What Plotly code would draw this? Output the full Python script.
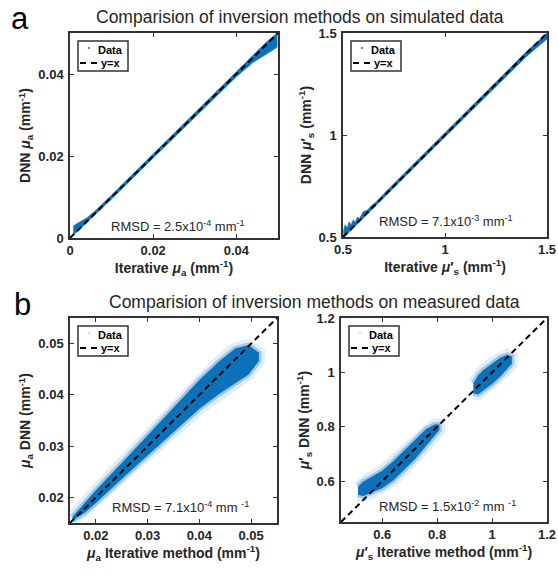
import plotly.graph_objects as go

# ---------------- data ----------------
# (a) simulated data, absorption: band of points around y=x
sim_mua_x  = [0.0008, 0.0015, 0.0025, 0.004, 0.006, 0.010, 0.020, 0.030, 0.040, 0.044, 0.047, 0.0498]
sim_mua_hi = [0.0030, 0.0035, 0.0040, 0.0049, 0.0066, 0.0105, 0.0205, 0.0305, 0.0405, 0.0446, 0.0476, 0.0500]
sim_mua_lo = [0.0010, 0.0013, 0.0021, 0.0036, 0.0056, 0.0095, 0.0195, 0.0295, 0.0393, 0.0428, 0.0447, 0.0465]

# (a) simulated data, reduced scattering (jagged upper edge at low values)
sim_mus_x  = [0.502, 0.51, 0.52, 0.53, 0.54, 0.55, 0.56, 0.57, 0.58, 0.60, 0.62, 0.64, 0.66, 0.68, 0.70, 0.80, 1.00, 1.20, 1.40, 1.50]
sim_mus_hi = [0.530, 0.560, 0.545, 0.575, 0.560, 0.585, 0.572, 0.598, 0.590, 0.625, 0.632, 0.655, 0.670, 0.692, 0.712, 0.812, 1.010, 1.210, 1.410, 1.500]
sim_mus_lo = [0.495, 0.505, 0.515, 0.525, 0.533, 0.543, 0.553, 0.563, 0.573, 0.592, 0.612, 0.632, 0.652, 0.672, 0.692, 0.792, 0.990, 1.190, 1.385, 1.470]

# (b) measured data, absorption cloud
meas_mua_x  = [0.0155, 0.018, 0.020, 0.025, 0.030, 0.035, 0.040, 0.044, 0.047, 0.0495, 0.0515]
meas_mua_hi = [0.0162, 0.0193, 0.0214, 0.0267, 0.0320, 0.0374, 0.0429, 0.0467, 0.0491, 0.0497, 0.0482]
meas_mua_lo = [0.0155, 0.0171, 0.0189, 0.0236, 0.0282, 0.0328, 0.0373, 0.0403, 0.0423, 0.0440, 0.0466]

# (b) measured data, reduced scattering: two clusters
meas_mus1_x  = [0.512, 0.53, 0.56, 0.60, 0.64, 0.68, 0.72, 0.76, 0.79, 0.808]
meas_mus1_hi = [0.580, 0.598, 0.615, 0.638, 0.673, 0.711, 0.753, 0.792, 0.808, 0.808]
meas_mus1_lo = [0.550, 0.546, 0.556, 0.574, 0.603, 0.642, 0.682, 0.727, 0.765, 0.788]
meas_mus2_x  = [0.932, 0.95, 0.97, 1.00, 1.03, 1.055, 1.072]
meas_mus2_hi = [0.960, 0.990, 1.010, 1.035, 1.055, 1.064, 1.058]
meas_mus2_lo = [0.922, 0.920, 0.935, 0.957, 0.985, 1.010, 1.032]

# axis ranges and ticks
ranges = {1: [0, 0.05], 2: [0.5, 1.5], 3: [0.015, 0.055], 4: [0.45, 1.2]}
tickvals = {1: [0, 0.02, 0.04], 2: [0.5, 1, 1.5],
            3: [0.02, 0.03, 0.04, 0.05], 4: [0.6, 0.8, 1.0, 1.2]}
ticktext = {1: ["0", "0.02", "0.04"], 2: ["0.5", "1", "1.5"],
            3: ["0.02", "0.03", "0.04", "0.05"], 4: ["0.6", "0.8", "1", "1.2"]}
xtitles = {1: "Iterative <i>μ</i><sub>a</sub> (mm<sup>-1</sup>)",
           2: "Iterative <i>μ</i>′<sub>s</sub> (mm<sup>-1</sup>)",
           3: "<i>μ</i><sub>a</sub> Iterative method (mm<sup>-1</sup>)",
           4: "<i>μ</i>′<sub>s</sub> Iterative method (mm<sup>-1</sup>)"}
ytitles = {1: "DNN <i>μ</i><sub>a</sub> (mm<sup>-1</sup>)",
           2: "DNN <i>μ</i>′<sub>s</sub> (mm<sup>-1</sup>)",
           3: "<i>μ</i><sub>a</sub> DNN (mm<sup>-1</sup>)",
           4: "<i>μ</i>′<sub>s</sub> DNN (mm<sup>-1</sup>)"}
rmsd = {1: "RMSD = 2.5x10<sup>-4</sup> mm<sup>-1</sup>",
        2: "RMSD = 7.1x10<sup>-3</sup> mm<sup>-1</sup>",
        3: "RMSD = 7.1x10<sup>-4</sup> mm <sup>-1</sup>",
        4: "RMSD = 1.5x10<sup>-2</sup> mm <sup>-1</sup>"}
legend_labels = ["Data", "y=x"]

# ---------------- layout geometry ----------------
W, H = 558, 575
axes_px = {1: (70, 33, 278, 238), 2: (343, 33, 547, 237),
           3: (70, 318, 277, 523), 4: (341, 318, 547, 522)}

BLUE = "#0B72BA"
FONT = "Liberation Sans"
AXC = "#333333"

fig = go.Figure()

def band(i, xs, hi, lo, fringe):
    xr = "x" if i == 1 else f"x{i}"
    yr = "y" if i == 1 else f"y{i}"
    px = list(xs) + list(xs)[::-1]
    py = list(hi) + list(lo)[::-1]
    if fringe:
        # faint halo of sparse points around the dense core
        fig.add_trace(go.Scatter(x=px, y=py, xaxis=xr, yaxis=yr, mode="lines",
                                 fill="toself", fillcolor="rgba(11,114,186,0.12)",
                                 line=dict(color="rgba(11,114,186,0.12)", width=12),
                                 hoverinfo="skip", showlegend=False))
    fig.add_trace(go.Scatter(
        x=px, y=py, xaxis=xr, yaxis=yr, mode="lines", fill="toself",
        fillcolor=BLUE,
        line=dict(color=("rgba(11,114,186,0.3)" if fringe else BLUE),
                  width=(5 if fringe else 0.5)),
        hoverinfo="skip", showlegend=False))

def diag(i):
    xr = "x" if i == 1 else f"x{i}"
    yr = "y" if i == 1 else f"y{i}"
    r = ranges[i]
    fig.add_trace(go.Scatter(x=r, y=r, xaxis=xr, yaxis=yr, mode="lines",
                             line=dict(color="black", width=2, dash="6px,4px"),
                             hoverinfo="skip", showlegend=False))

band(1, sim_mua_x, sim_mua_hi, sim_mua_lo, False)
band(2, sim_mus_x, sim_mus_hi, sim_mus_lo, False)
band(3, meas_mua_x, meas_mua_hi, meas_mua_lo, True)
band(4, meas_mus1_x, meas_mus1_hi, meas_mus1_lo, True)
band(4, meas_mus2_x, meas_mus2_hi, meas_mus2_lo, True)
for i in range(1, 5):
    diag(i)

layout = dict(width=W, height=H, margin=dict(l=0, r=0, t=0, b=0),
              paper_bgcolor="white", plot_bgcolor="white", showlegend=False)
shapes, annots = [], []
for i in range(1, 5):
    L, T, R, B = axes_px[i]
    w, h = R - L, B - T
    sx = "" if i == 1 else str(i)
    common = dict(showline=True, mirror="ticks", linecolor=AXC, linewidth=1.5,
                  ticks="inside", ticklen=4, tickcolor=AXC, tickwidth=1,
                  showgrid=False, zeroline=False, range=ranges[i],
                  tickvals=tickvals[i], ticktext=ticktext[i], automargin=False,
                  ticklabeloverflow="allow",
                  tickfont=dict(family=FONT, size=13, color="#262626", weight="bold"))
    layout["xaxis" + sx] = dict(common, domain=[L / W, R / W], anchor="y" + sx,
                                title=dict(text=xtitles[i], standoff=4,
                                           font=dict(family=FONT, size=14, color="#262626", weight="bold")))
    layout["yaxis" + sx] = dict(common, domain=[1 - B / H, 1 - T / H], anchor="x" + sx,
                                ticklabelstandoff=2,
                                title=dict(text=ytitles[i], standoff=4,
                                           font=dict(family=FONT, size=14, color="#262626", weight="bold")))
    xd, yd = f"x{sx} domain", f"y{sx} domain"
    fx = lambda px: px / w
    fy = lambda py: 1 - py / h
    # legend box
    shapes.append(dict(type="rect", xref=xd, yref=yd, x0=fx(8), x1=fx(58), y0=fy(38), y1=fy(8),
                       line=dict(color=AXC, width=1.5), fillcolor="white", layer="above"))
    shapes.append(dict(type="line", xref=xd, yref=yd, x0=fx(10), x1=fx(28), y0=fy(30), y1=fy(30),
                       line=dict(color="black", width=2, dash="6px,5px"), layer="above"))
    dotc = BLUE if i <= 2 else "rgba(11,114,186,0.3)"
    shapes.append(dict(type="circle", xref=xd, yref=yd, x0=fx(18), x1=fx(20), y0=fy(16), y1=fy(14),
                       line=dict(width=0), fillcolor=dotc, layer="above"))
    annots.append(dict(xref=xd, yref=yd, x=fx(55), y=fy(17), text=legend_labels[0],
                       xanchor="right", yanchor="middle", showarrow=False,
                       font=dict(family=FONT, size=11, color="black", weight="bold")))
    annots.append(dict(xref=xd, yref=yd, x=fx(29), y=fy(30), text=legend_labels[1],
                       xanchor="left", yanchor="middle", showarrow=False,
                       font=dict(family=FONT, size=11, color="black", weight="bold")))

# RMSD labels (centre in axis-domain fractions)
rm_pos = {1: (0.52, 0.06), 2: (0.505, 0.08), 3: (0.534, 0.08), 4: (0.517, 0.08)}
for i in range(1, 5):
    sx = "" if i == 1 else str(i)
    annots.append(dict(xref=f"x{sx} domain", yref=f"y{sx} domain", x=rm_pos[i][0], y=rm_pos[i][1],
                       text=rmsd[i], showarrow=False, xanchor="center", yanchor="middle",
                       font=dict(family=FONT, size=13, color="#262626")))

annots += [
    dict(xref="paper", yref="paper", x=300 / W, y=1 - 17 / H, text="Comparision of inversion methods on simulated data",
         showarrow=False, xanchor="center", yanchor="middle", font=dict(family=FONT, size=17.5, color="#262626")),
    dict(xref="paper", yref="paper", x=314 / W, y=1 - 302 / H, text="Comparision of inversion methods on measured data",
         showarrow=False, xanchor="center", yanchor="middle", font=dict(family=FONT, size=17.5, color="#262626")),
    dict(xref="paper", yref="paper", x=20 / W, y=1 - 19 / H, text="a", showarrow=False,
         xanchor="center", yanchor="middle", font=dict(family=FONT, size=31, color="black")),
    dict(xref="paper", yref="paper", x=22 / W, y=1 - 304 / H, text="b", showarrow=False,
         xanchor="center", yanchor="middle", font=dict(family=FONT, size=31, color="black")),
]
layout["shapes"] = shapes
layout["annotations"] = annots
fig.update_layout(**layout)
fig.write_html("out.html", config={"displayModeBar": False},
               post_script="document.body.style.margin='0';document.body.style.padding='0';")
